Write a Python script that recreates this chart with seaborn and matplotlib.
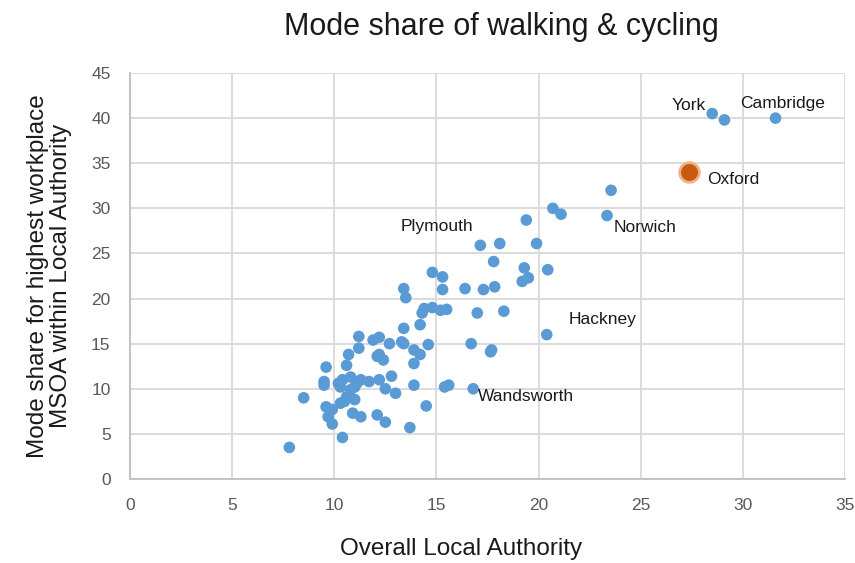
import matplotlib
matplotlib.use("Agg")
import matplotlib.pyplot as plt
import seaborn as sns
import pandas as pd

# Overall Local Authority mode share (x) vs highest workplace MSOA mode share (y)
la_share = [7.8, 8.5, 10.4, 9.5, 9.5, 9.6, 9.6, 9.9, 9.7, 9.9, 10.3, 10.5, 10.9, 11.3,
            12.1, 12.5, 13.7, 10.7, 10.6, 10.4, 10.8, 11.1, 10.8, 10.3, 10.6, 11.0, 10.2,
            11.0, 11.3, 11.7, 12.2, 12.8, 12.5, 13.0, 13.9, 15.4, 15.6, 16.8, 14.5, 11.2,
            11.2, 11.9, 12.2, 12.7, 13.3, 13.4, 13.4, 13.9, 14.2, 13.9, 14.6, 12.2, 12.1,
            12.4, 14.2, 14.3, 14.4, 14.8, 15.2, 15.5, 13.4, 13.5, 14.8, 15.3, 15.3, 16.4,
            17.3, 17.85, 17.8, 17.15, 18.1, 19.9, 19.3, 20.45, 19.5, 19.2, 17.0, 18.3,
            20.4, 16.7, 17.65, 17.7, 19.4, 20.7, 21.1, 23.35, 23.55, 28.5, 29.1, 31.6]
msoa_share = [3.5, 9.0, 4.6, 10.8, 10.4, 12.4, 8.0, 7.7, 6.9, 6.1, 8.4, 8.6, 7.3, 6.9,
              7.1, 6.3, 5.7, 13.8, 12.6, 11.0, 11.3, 10.6, 9.9, 10.2, 9.1, 8.8, 10.6,
              10.2, 11.0, 10.8, 11.0, 11.4, 10.0, 9.5, 10.4, 10.2, 10.4, 10.0, 8.1, 15.8,
              14.5, 15.4, 15.7, 15.0, 15.2, 16.7, 15.0, 14.3, 13.8, 12.8, 14.9, 13.8, 13.6,
              13.2, 17.1, 18.4, 18.9, 19.0, 18.7, 18.8, 21.1, 20.1, 22.9, 22.4, 21.0, 21.1,
              21.0, 21.3, 24.1, 25.9, 26.1, 26.1, 23.4, 23.2, 22.3, 21.9, 18.4, 18.6,
              16.0, 15.0, 14.1, 14.3, 28.7, 30.0, 29.35, 29.2, 32.0, 40.5, 39.8, 40.0]

highlight_name = ["Oxford"]
highlight_x = [27.35]
highlight_y = [34.0]

label_names = ["York", "Cambridge", "Norwich", "Plymouth", "Hackney", "Wandsworth"]
label_x = [28.5, 31.6, 23.35, 17.15, 20.4, 16.8]
label_y = [40.5, 40.0, 29.2, 25.9, 16.0, 10.0]

x_ticks = [0, 5, 10, 15, 20, 25, 30, 35]
y_ticks = [0, 5, 10, 15, 20, 25, 30, 35, 40, 45]

df = pd.DataFrame({"x": la_share, "y": msoa_share})
hdf = pd.DataFrame({"x": highlight_x, "y": highlight_y, "name": highlight_name})

sns.set_theme(style="white")
plt.rcParams['font.family'] = ['Liberation Sans', 'DejaVu Sans']

fig = plt.figure(figsize=(8.55, 5.63), dpi=100)
ax = fig.add_axes([130 / 855, 84 / 563, 715 / 855, 406 / 563])

sns.scatterplot(data=df, x="x", y="y", ax=ax, s=70, color="#5B9BD5",
                edgecolor="none", linewidth=0, zorder=3)
sns.scatterplot(data=hdf, x="x", y="y", ax=ax, s=200, color="#C55A11",
                edgecolor="#F4B183", linewidth=2, zorder=4)

ax.set_xlim(0, 35)
ax.set_ylim(0, 45)
ax.set_xticks(x_ticks)
ax.set_yticks(y_ticks)
ax.grid(True, color="#D9D9D9", linewidth=1.3)
ax.set_axisbelow(True)
for s in ["top", "right"]:
    ax.spines[s].set_visible(False)
for s in ["left", "bottom"]:
    ax.spines[s].set_color("#BFBFBF")
    ax.spines[s].set_linewidth(1.3)
ax.tick_params(axis="both", length=0, pad=14, labelsize=12.5, labelcolor="#595959")

ax.set_xlabel("Overall Local Authority", fontsize=17.5, color="#1a1a1a", va="center")
ax.xaxis.set_label_coords((461 - 130) / 715, (479 - 549) / 406)
ax.set_ylabel("Mode share for highest workplace\nMSOA within Local Authority",
              fontsize=17.5, color="#1a1a1a", labelpad=14, linespacing=1.05)

# annotations (pixel offsets from the labelled point)
offsets = {
    "York": (-6, 8, "right"),
    "Cambridge": (-35, 15, "left"),
    "Norwich": (7, -12, "left"),
    "Plymouth": (-80, 19, "left"),
    "Hackney": (22, 15, "left"),
    "Wandsworth": (5, -8, "left"),
    "Oxford": (18, -7, "left"),
}
for n, lx, ly in zip(label_names + highlight_name, label_x + highlight_x,
                     label_y + highlight_y):
    dx, dy, ha = offsets[n]
    ax.annotate(n, (lx, ly), xytext=(dx, dy), textcoords="offset pixels",
                ha=ha, va="center", fontsize=12.5, color="#1a1a1a", zorder=5)

fig.text(501 / 855, 1 - 27 / 563, "Mode share of walking & cycling",
         ha="center", va="center", fontsize=22, color="#1a1a1a")

fig.savefig("out.png", dpi=100)
